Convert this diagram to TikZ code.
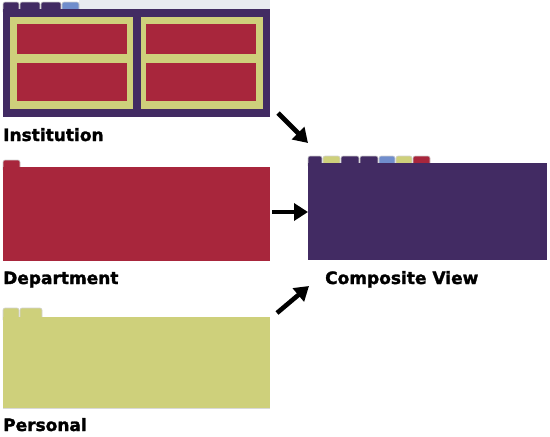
\documentclass[tikz,border=0pt]{standalone}
\usepackage{fontspec}
\setmainfont{DejaVu Sans}
\newfontfamily\heavyfont{DejaVu Sans}[BoldFeatures={FakeBold=1.6}]
\usetikzlibrary{arrows.meta}
\definecolor{plum}{RGB}{66,43,99}
\definecolor{wine}{RGB}{168,38,60}
\definecolor{lime}{RGB}{206,208,123}
\definecolor{sky}{RGB}{112,141,204}
\definecolor{haze}{RGB}{232,234,240}
\begin{document}
\begin{tikzpicture}[x=1pt, y=-1pt,
    panel/.style = {anchor=north west, inner sep=0, outer sep=0},
    tab/.style = {draw=black!18, line width=0.6pt, rounded corners=2pt},
    lbl/.style = {anchor=base west, inner sep=0, font=\heavyfont\bfseries\fontsize{17}{17}\selectfont},
    arr/.style = {line width=4.6pt, -{Triangle[length=14pt, width=17pt]}}]
    \useasboundingbox (0,0) rectangle (550,437);

    % institution
    \fill[haze] (79,0) rectangle (270,9);
    \draw[tab, fill=plum] (3,12) -- (3,2) -- (19,2) -- (19,12);
    \draw[tab, fill=plum] (20,12) -- (20,2) -- (40,2) -- (40,12);
    \draw[tab, fill=plum] (41,12) -- (41,2) -- (61,2) -- (61,12);
    \draw[tab, fill=sky] (62,12) -- (62,2) -- (79,2) -- (79,12);
    \node[panel, fill=plum, minimum width=267pt, minimum height=108pt] (1) at (3,9) {};
    \fill[lime] (10,17) rectangle (133,109);
    \fill[lime] (141,17) rectangle (263,109);
    \fill[wine] (17,24) rectangle (127,54);
    \fill[wine] (17,63) rectangle (127,101);
    \fill[wine] (146,24) rectangle (256,54);
    \fill[wine] (146,63) rectangle (256,101);
    \node[lbl] (1l) at (3,141) {Institution};

    % department
    \draw[tab, fill=wine] (3,170) -- (3,160) -- (20,160) -- (20,170);
    \node[panel, fill=wine, minimum width=267pt, minimum height=94pt] (2) at (3,167) {};
    \node[lbl] (2l) at (3,284) {Department};

    % personal
    \draw[tab, fill=lime] (3,320) -- (3,308) -- (19,308) -- (19,320);
    \draw[tab, fill=lime] (20,320) -- (20,308) -- (42,308) -- (42,320);
    \node[panel, fill=lime, minimum width=267pt, minimum height=91pt] (3) at (3,317) {};
    \draw[black!15, line width=0.8pt] (3.south west) -- (3.south east);
    \node[lbl] (3l) at (3,431) {Personal};

    % composite
    \draw[tab, fill=plum] (308,166) -- (308,156) -- (322,156) -- (322,166);
    \draw[tab, fill=lime] (323,166) -- (323,156) -- (340,156) -- (340,166);
    \draw[tab, fill=plum] (341,166) -- (341,156) -- (359,156) -- (359,166);
    \draw[tab, fill=plum] (360,166) -- (360,156) -- (378,156) -- (378,166);
    \draw[tab, fill=sky] (379,166) -- (379,156) -- (395,156) -- (395,166);
    \draw[tab, fill=lime] (396,166) -- (396,156) -- (412,156) -- (412,166);
    \draw[tab, fill=wine] (413,166) -- (413,156) -- (430,156) -- (430,166);
    \node[panel, fill=plum, minimum width=239pt, minimum height=97pt] (4) at (308,163) {};
    \node[lbl] (4l) at (325,284) {Composite View};

    % arrows
    \coordinate (a1) at (278,113);
    \coordinate (b1) at (308,143);
    \coordinate (a2) at (272,212);
    \coordinate (b2) at (308,212);
    \coordinate (a3) at (277,313);
    \coordinate (b3) at (309,286);
    \draw[arr] (a1) -- (b1);
    \draw[arr] (a2) -- (b2);
    \draw[arr] (a3) -- (b3);
\end{tikzpicture}
\end{document}
